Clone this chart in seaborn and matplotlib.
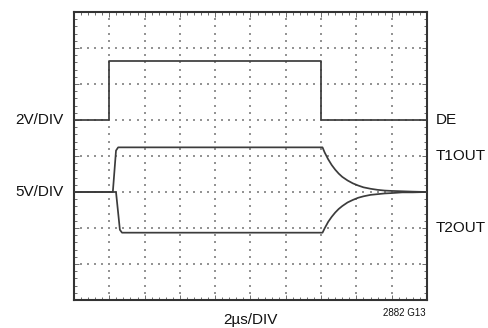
import numpy as np
import pandas as pd
import matplotlib
matplotlib.use("Agg")
import matplotlib.pyplot as plt
import seaborn as sns

sns.set_theme(style="white")
plt.rcParams['font.family'] = ['Liberation Sans', 'DejaVu Sans']

# Scope traces, in screen divisions (x: 0-10 div at 2us/div, y: 0-8 div)
de_x = [0.0, 1.0, 1.0, 7.0, 7.0, 10.0]
de_y = [5.0, 5.0, 6.64, 6.64, 5.0, 5.0]

t1_x = [0.0, 1.10, 1.19, 1.25, 7.04, 7.1, 7.2, 7.3, 7.4, 7.5, 7.6, 7.75, 7.9,
        8.05, 8.2, 8.4, 8.6, 8.8, 9.0, 9.3, 9.6, 10.0]
t1_y = [3.0, 3.0, 4.15, 4.24, 4.24, 4.10, 3.91, 3.75, 3.62, 3.51, 3.42, 3.32, 3.24,
        3.18, 3.13, 3.09, 3.06, 3.04, 3.03, 3.02, 3.01, 3.00]

t2_x = [0.0, 1.19, 1.30, 1.36, 7.04, 7.1, 7.2, 7.3, 7.4, 7.5, 7.6, 7.75, 7.9,
        8.05, 8.2, 8.4, 8.6, 8.8, 9.0, 9.3, 9.6, 10.0]
t2_y = [3.0, 3.0, 1.95, 1.87, 1.87, 1.99, 2.17, 2.31, 2.43, 2.53, 2.61, 2.71, 2.78,
        2.84, 2.88, 2.92, 2.94, 2.96, 2.97, 2.99, 2.99, 3.00]

left_labels = [("2V/DIV", 5.0), ("5V/DIV", 3.0)]
right_labels = [("DE", 5.0), ("T1OUT", 4.0), ("T2OUT", 2.0)]
x_label = "2\u00b5s/DIV"
fig_code = "2882 G13"

fig = plt.figure(figsize=(4.89, 3.28), dpi=100)
ax = fig.add_axes([74 / 489, 1 - 300 / 328, 353 / 489, 288 / 328])
ax.set_xlim(0, 10)
ax.set_ylim(0, 8)

# Dotted graticule: a dot every 0.2 division along each major line
minor = np.arange(0, 10.01, 0.2)
minor_y = np.arange(0, 8.01, 0.2)
gx, gy = [], []
for v in range(1, 10):
    gx += [v] * len(minor_y)
    gy += list(minor_y)
for h in range(1, 8):
    gx += list(minor)
    gy += [h] * len(minor)
ax.scatter(gx, gy, s=0.8, c="#949494", marker="s", linewidths=0, zorder=1)

trace_color = "#3c3c3c"
for xs, ys in [(de_x, de_y), (t1_x, t1_y), (t2_x, t2_y)]:
    df = pd.DataFrame({"x": xs, "y": ys})
    sns.lineplot(data=df, x="x", y="y", sort=False, estimator=None, ax=ax,
                 color=trace_color, linewidth=1.25, zorder=3)

ax.set_xlabel("")
ax.set_ylabel("")
ax.set_xticks(range(0, 11))
ax.set_yticks(range(0, 9))
ax.set_xticks(minor, minor=True)
ax.set_yticks(minor_y, minor=True)
ax.set_xticklabels([])
ax.set_yticklabels([])
ax.tick_params(which="both", direction="in", top=True, right=True, bottom=True, left=True,
               color="#555555", width=0.6)
ax.tick_params(which="major", length=3.5)
ax.tick_params(which="minor", length=2)
for sp in ax.spines.values():
    sp.set_color("#333333")
    sp.set_linewidth(1.5)
    sp.set_visible(True)

label_size = 11
for text, yv in left_labels:
    fig.text(64 / 489, ax.transData.transform((0, yv))[1] / fig.bbox.height, text,
             ha="right", va="center", fontsize=label_size, color="#111111")
for text, yv in right_labels:
    fig.text(436 / 489, ax.transData.transform((0, yv))[1] / fig.bbox.height, text,
             ha="left", va="center", fontsize=label_size, color="#111111")
fig.text(250 / 489, 1 - 320 / 328, x_label, ha="center", va="center", fontsize=label_size,
         color="#111111")
fig.text(426 / 489, 1 - 313 / 328, fig_code, ha="right", va="center", fontsize=7,
         color="#111111")

fig.savefig("out.png", dpi=100)
